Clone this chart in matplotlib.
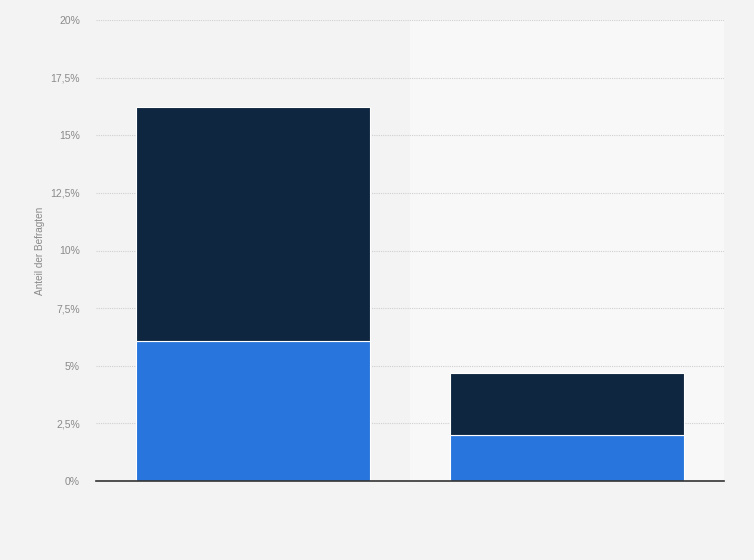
import matplotlib
matplotlib.use("Agg")
import matplotlib.pyplot as plt
from matplotlib.ticker import FuncFormatter

plt.rcParams["font.family"] = ["Liberation Sans", "DejaVu Sans"]

categories = ["A", "B"]
series_blue = [6.07, 2.0]
series_dark = [10.15, 2.69]
yticks = [0, 2.5, 5, 7.5, 10, 12.5, 15, 17.5, 20]

fig = plt.figure(figsize=(7.54, 5.6), dpi=100, facecolor="#f3f3f3")
ax = fig.add_axes([96/754, 1-481/560, 628/754, 461/560])
ax.set_facecolor("#f3f3f3")

x = list(range(len(categories)))
ax.axvspan(0.5, 1.5, color="#f8f8f8", zorder=0)
ax.bar(x, series_blue, width=0.745, color="#2876dd", edgecolor="white", linewidth=0.8, zorder=3)
ax.bar(x, series_dark, width=0.745, bottom=series_blue, color="#0f2640", edgecolor="white", linewidth=0.8, zorder=3)

ax.set_xlim(-0.5, 1.5)
ax.set_ylim(0, 20)
ax.set_yticks(yticks)
ax.yaxis.set_major_formatter(FuncFormatter(lambda v, p: (f"{v:g}".replace(".", ",")) + "%"))
ax.set_xticks([])
ax.grid(axis="y", color="#d0d0d0", linestyle=(0, (1, 1)), linewidth=0.8, zorder=1)
for s in ["top", "right", "left"]:
    ax.spines[s].set_visible(False)
ax.spines["bottom"].set_color("#333333")
ax.spines["bottom"].set_linewidth(1.2)
ax.spines["bottom"].set_zorder(4)
ax.tick_params(axis="y", length=0, labelsize=7.5, labelcolor="#8a8a8a", pad=11.5)
ax.set_ylabel("Anteil der Befragten", fontsize=7.2, color="#8a8a8a", labelpad=4)

fig.savefig("out.png", dpi=100, facecolor=fig.get_facecolor())
